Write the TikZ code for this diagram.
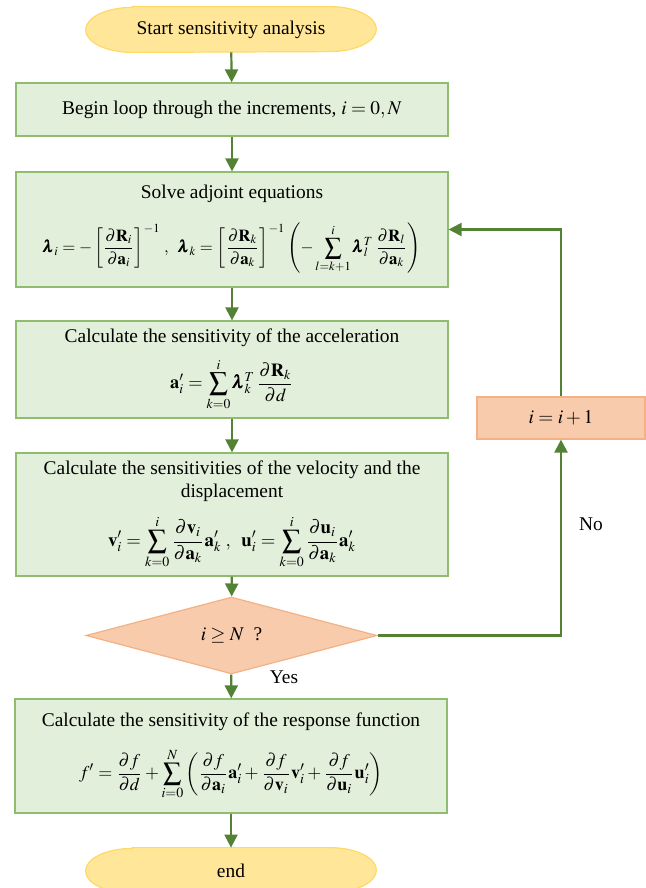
\documentclass[tikz,border=0pt]{standalone}
\usepackage{amsmath}
\IfFileExists{mathptmx.sty}{\usepackage{mathptmx}\newcommand{\blam}{\pmb{\lambda}}}{\newcommand{\blam}{\boldsymbol{\lambda}}}
\usepackage[no-math]{fontspec}
\setmainfont{Liberation Serif}
\usetikzlibrary{arrows.meta, shapes.geometric, backgrounds}
\definecolor{cBox}{HTML}{E2EFDA}
\definecolor{cBoxLn}{HTML}{8FBC6E}
\definecolor{cArr}{HTML}{548235}
\definecolor{cTerm}{HTML}{FFE699}
\definecolor{cTermLn}{HTML}{FFD966}
\definecolor{cDec}{HTML}{F8CBAD}
\definecolor{cDecLn}{HTML}{F4B183}

\begin{document}
\begin{tikzpicture}[
    x=0.5pt, y=-0.5pt, font=\fontsize{9.7}{11.6}\selectfont,
    proc/.style={draw=cBoxLn, fill=cBox, line width=0.6pt, minimum width=216pt, inner sep=0pt, align=center},
    term/.style={minimum width=145pt, minimum height=22.5pt, inner sep=0pt},
    cond/.style={diamond, draw=cDecLn, fill=cDec, line width=0.6pt, minimum width=145.5pt, minimum height=29.5pt, inner sep=0pt},
    incr/.style={draw=cDecLn, fill=cDec, line width=0.6pt, minimum width=84pt, minimum height=21pt, inner sep=0pt},
    lab/.style={inner sep=0pt},
    ln/.style={draw=cArr, line width=1.1pt},
    fl/.style={ln, -{Triangle[length=6.5pt, width=6.5pt]}},
]

\def\rx{23.3pt}   % end radius of the terminals
\def\ry{11.25pt}
\def\fm#1{\fontsize{#1}{11.6}\selectfont}   % size of a formula line

\useasboundingbox (0,0) rectangle (646,888);
\clip (0,0) rectangle (646,888);

% ===================== Main column =====================
\node[term] (st) at (231,29.5) {Start sensitivity analysis};

\node[proc, minimum height=26.5pt] (b1) at (232,109.5)
      {Begin loop through the increments,\ $i=0,N$};

\node[proc, minimum height=57.5pt] (b2) at (232,229.5)
      {Solve adjoint equations\\[9pt]
       \fm{8.4}$\displaystyle \blam_i=-\left[\frac{\partial\mathbf{R}_i}{\partial\mathbf{a}_i}\right]^{-1}\,,\;\;
        \blam_k=\left[\frac{\partial\mathbf{R}_k}{\partial\mathbf{a}_k}\right]^{-1}
        \left(-\sum_{l=k+1}^{i}\blam_l^T\,\frac{\partial\mathbf{R}_l}{\partial\mathbf{a}_k}\right)$};

\node[proc, minimum height=48.5pt] (b3) at (232,369.5)
      {Calculate the sensitivity of the acceleration\\[5pt]
       \fm{9.2}$\displaystyle \mathbf{a}_i'=\sum_{k=0}^{i}\blam_k^T\,\frac{\partial\mathbf{R}_k}{\partial d}$};

\node[proc, minimum height=61.5pt] (b4) at (232,514.5)
      {Calculate the sensitivities of the velocity and the\\ displacement\\[6pt]
       \fm{9.4}$\displaystyle \mathbf{v}_i'=\sum_{k=0}^{i}\frac{\partial\mathbf{v}_i}{\partial\mathbf{a}_k}\mathbf{a}_k'\;,\;\;
        \mathbf{u}_i'=\sum_{k=0}^{i}\frac{\partial\mathbf{u}_i}{\partial\mathbf{a}_k}\mathbf{a}_k'$};

\node[cond] (dec) at (231.5,635.5) {$i\geq N$\ \ ?};

\node[proc, minimum height=57pt] (b5) at (231,756)
      {Calculate the sensitivity of the response function\\[8pt]
       \fm{9}$\displaystyle f'=\frac{\partial f}{\partial d}+\sum_{i=0}^{N}\left(\frac{\partial f}{\partial\mathbf{a}_i}\mathbf{a}_i'
        +\frac{\partial f}{\partial\mathbf{v}_i}\mathbf{v}_i'+\frac{\partial f}{\partial\mathbf{u}_i}\mathbf{u}_i'\right)$};

\node[term] (en) at (231,870.5) {end};

% Terminal outlines, drawn behind their text.
\begin{scope}[on background layer]
\foreach \t in {st,en} {
    \draw[draw=cTermLn, fill=cTerm, line width=0.6pt]
        ([xshift=\rx]\t.north west) -- ([xshift=-\rx]\t.north east)
        arc[start angle=90, end angle=-90, x radius=\rx, y radius=\ry]
        -- ([xshift=\rx]\t.south west)
        arc[start angle=270, end angle=90, x radius=\rx, y radius=\ry] -- cycle;
}
\end{scope}

% ===================== Loop back =====================
\node[incr] (inc) at (561,418) {$i=i+1$};
\node[lab] (no) at (591,524) {No};
\node[lab] (yes) at (284,677) {Yes};

% ===================== Connectors =====================
\draw[fl] (st) -- (b1);
\draw[fl] (b1) -- (b2);
\draw[fl] (b2) -- (b3);
\draw[fl] (b3) -- (b4);
\draw[fl] (b4) -- (dec);
\draw[fl] (dec) -- (b5);
\draw[fl] (b5) -- (en);

\draw[fl] (dec.east) -| (inc.south);
\draw[fl] (inc.north) |- (b2.east);

\end{tikzpicture}
\end{document}
